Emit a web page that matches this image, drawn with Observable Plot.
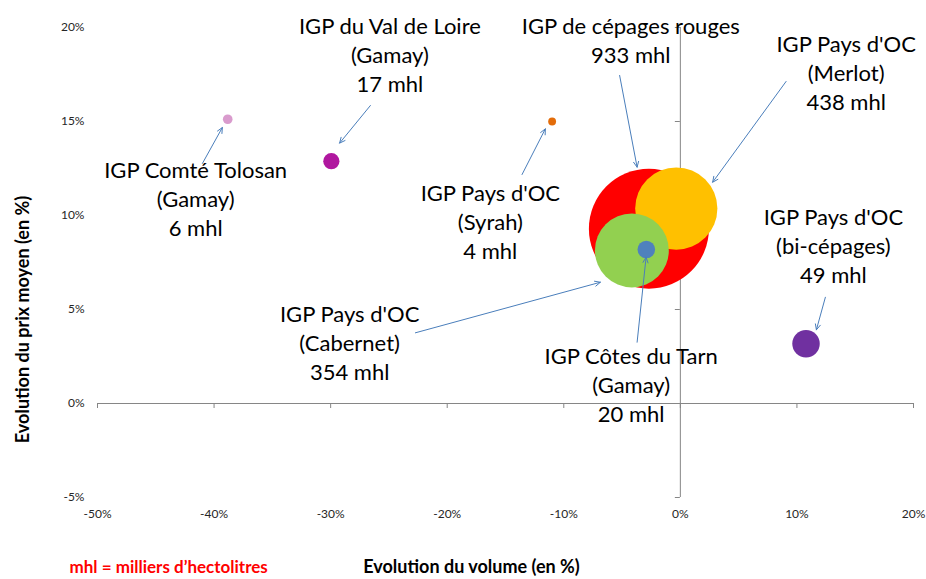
<!DOCTYPE html>
<html><head><meta charset="utf-8">
<script src="https://cdn.jsdelivr.net/npm/d3@7"></script>
<script src="https://cdn.jsdelivr.net/npm/@observablehq/plot@0.6"></script>
<style>body{margin:0;background:#fff} #chart{width:926px;height:579px}</style>
</head><body><div id="chart"></div>
<script>
// ---- data ----
const names = ["IGP de cépages rouges", "IGP Pays d'OC (Merlot)", "IGP Pays d'OC (Cabernet)", "IGP Côtes du Tarn (Gamay)", "IGP Pays d'OC (bi-cépages)", "IGP du Val de Loire (Gamay)", "IGP Comté Tolosan (Gamay)", "IGP Pays d'OC (Syrah)"];
const volumeChange = [-2.7, -0.35, -4.16, -2.92, 10.78, -29.94, -38.83, -11.0];
const priceChange = [9.3, 10.37, 8.14, 8.19, 3.18, 12.89, 15.12, 15.0];
const volumes = [933, 438, 354, 20, 49, 17, 6, 4];
const colors = ["#FF0000", "#FFC000", "#92D050", "#4F81BD", "#7030A0", "#B0179F", "#D99BCD", "#E36C09"];
const labelTexts = [
  "IGP de cépages rouges\n933 mhl",
  "IGP Pays d'OC\n(Merlot)\n438 mhl",
  "IGP Pays d'OC\n(Cabernet)\n354 mhl",
  "IGP Côtes du Tarn\n(Gamay)\n20 mhl",
  "IGP Pays d'OC\n(bi-cépages)\n49 mhl",
  "IGP du Val de Loire\n(Gamay)\n17 mhl",
  "IGP Comté Tolosan\n(Gamay)\n6 mhl",
  "IGP Pays d'OC\n(Syrah)\n4 mhl"
];
const xTicks = [-50, -40, -30, -20, -10, 0, 10, 20];
const yTicks = [-5, 0, 5, 10, 15, 20];

// ---- annotation placement (in data units, %) ----
const labelX = [-4.25, 14.22, -28.37, -4.22, 13.13, -24.92, -41.58, -16.3];
const labelY = [19.27, 17.54, 3.2, 0.97, 8.35, 18.51, 10.85, 9.63];
const arrowX1 = [-5.21, 9.07, -22.73, -3.71, 12.44, -26.59, -41.0, -13.58];
const arrowY1 = [17.45, 17.13, 3.76, 3.26, 5.65, 15.85, 12.77, 12.18];
const arrowX2 = [-3.71, 2.77, -6.86, -2.94, 11.67, -29.23, -39.29, -11.58];
const arrowY2 = [12.57, 11.77, 6.45, 7.78, 3.92, 13.85, 14.68, 14.61];

const bubbles = names.map((n, i) => ({name: n, x: volumeChange[i], y: priceChange[i], v: volumes[i], color: colors[i]}));
const notes = labelTexts.map((t, i) => ({text: t, lx: labelX[i], ly: labelY[i], x1: arrowX1[i], y1: arrowY1[i], x2: arrowX2[i], y2: arrowY2[i]}));

const font = "Lato, 'Open Sans', sans-serif";
const axisColor = "#868686";

const chart = Plot.plot({
  width: 926,
  height: 579,
  marginTop: 27,
  marginBottom: 82,
  marginLeft: 97,
  marginRight: 13,
  style: {fontFamily: font, fontSize: "12px", color: "#262626", background: "#fff"},
  x: {domain: [-50, 20], ticks: xTicks, tickFormat: d => d + "%", tickSize: 0, tickPadding: 12, label: null},
  y: {domain: [-5, 20], ticks: yTicks, tickFormat: d => d + "%", tickSize: 0, tickPadding: 13, label: null},
  r: {type: "sqrt", domain: [0, 933], range: [0, 60]},
  marks: [
    Plot.ruleX([0], {stroke: axisColor}),
    Plot.ruleY([0], {stroke: axisColor}),
    Plot.ruleX(xTicks, {x: d => d, y1: 0, y2: 0, insetBottom: -5, stroke: axisColor}),
    Plot.ruleY(yTicks, {y: d => d, x1: 0, x2: 0, insetLeft: -5, stroke: axisColor}),
    Plot.dot(bubbles, {x: "x", y: "y", r: "v", fill: "color", stroke: "none"}),
    Plot.text(notes, {x: "lx", y: "ly", text: "text", fontSize: 22, lineHeight: 1.32, lineAnchor: "middle", textAnchor: "middle", dy: -2, fill: "#000", fontFamily: font}),
    Plot.arrow(notes, {x1: "x1", y1: "y1", x2: "x2", y2: "y2", stroke: "#4A7EBB", strokeWidth: 1, headLength: 9, headAngle: 50}),
    Plot.text(["Evolution du volume (en %)"], {frameAnchor: "bottom", textAnchor: "middle", lineAnchor: "middle", dx: -34, dy: 70, fontSize: 18, fontWeight: "bold", fill: "#000", fontFamily: font}),
    Plot.text(["Evolution du prix moyen (en %)"], {frameAnchor: "left", textAnchor: "middle", lineAnchor: "middle", dx: -74, dy: 57, rotate: -90, fontSize: 18, fontWeight: "bold", fill: "#000", fontFamily: font}),
    Plot.text(["mhl = milliers d\u2019hectolitres"], {frameAnchor: "bottom-left", textAnchor: "start", lineAnchor: "middle", dx: -28, dy: 70, fontSize: 17, fontWeight: "bold", fill: "#FF0000", fontFamily: font})
  ]
});
document.getElementById("chart").appendChild(chart);
</script>
</body></html>
